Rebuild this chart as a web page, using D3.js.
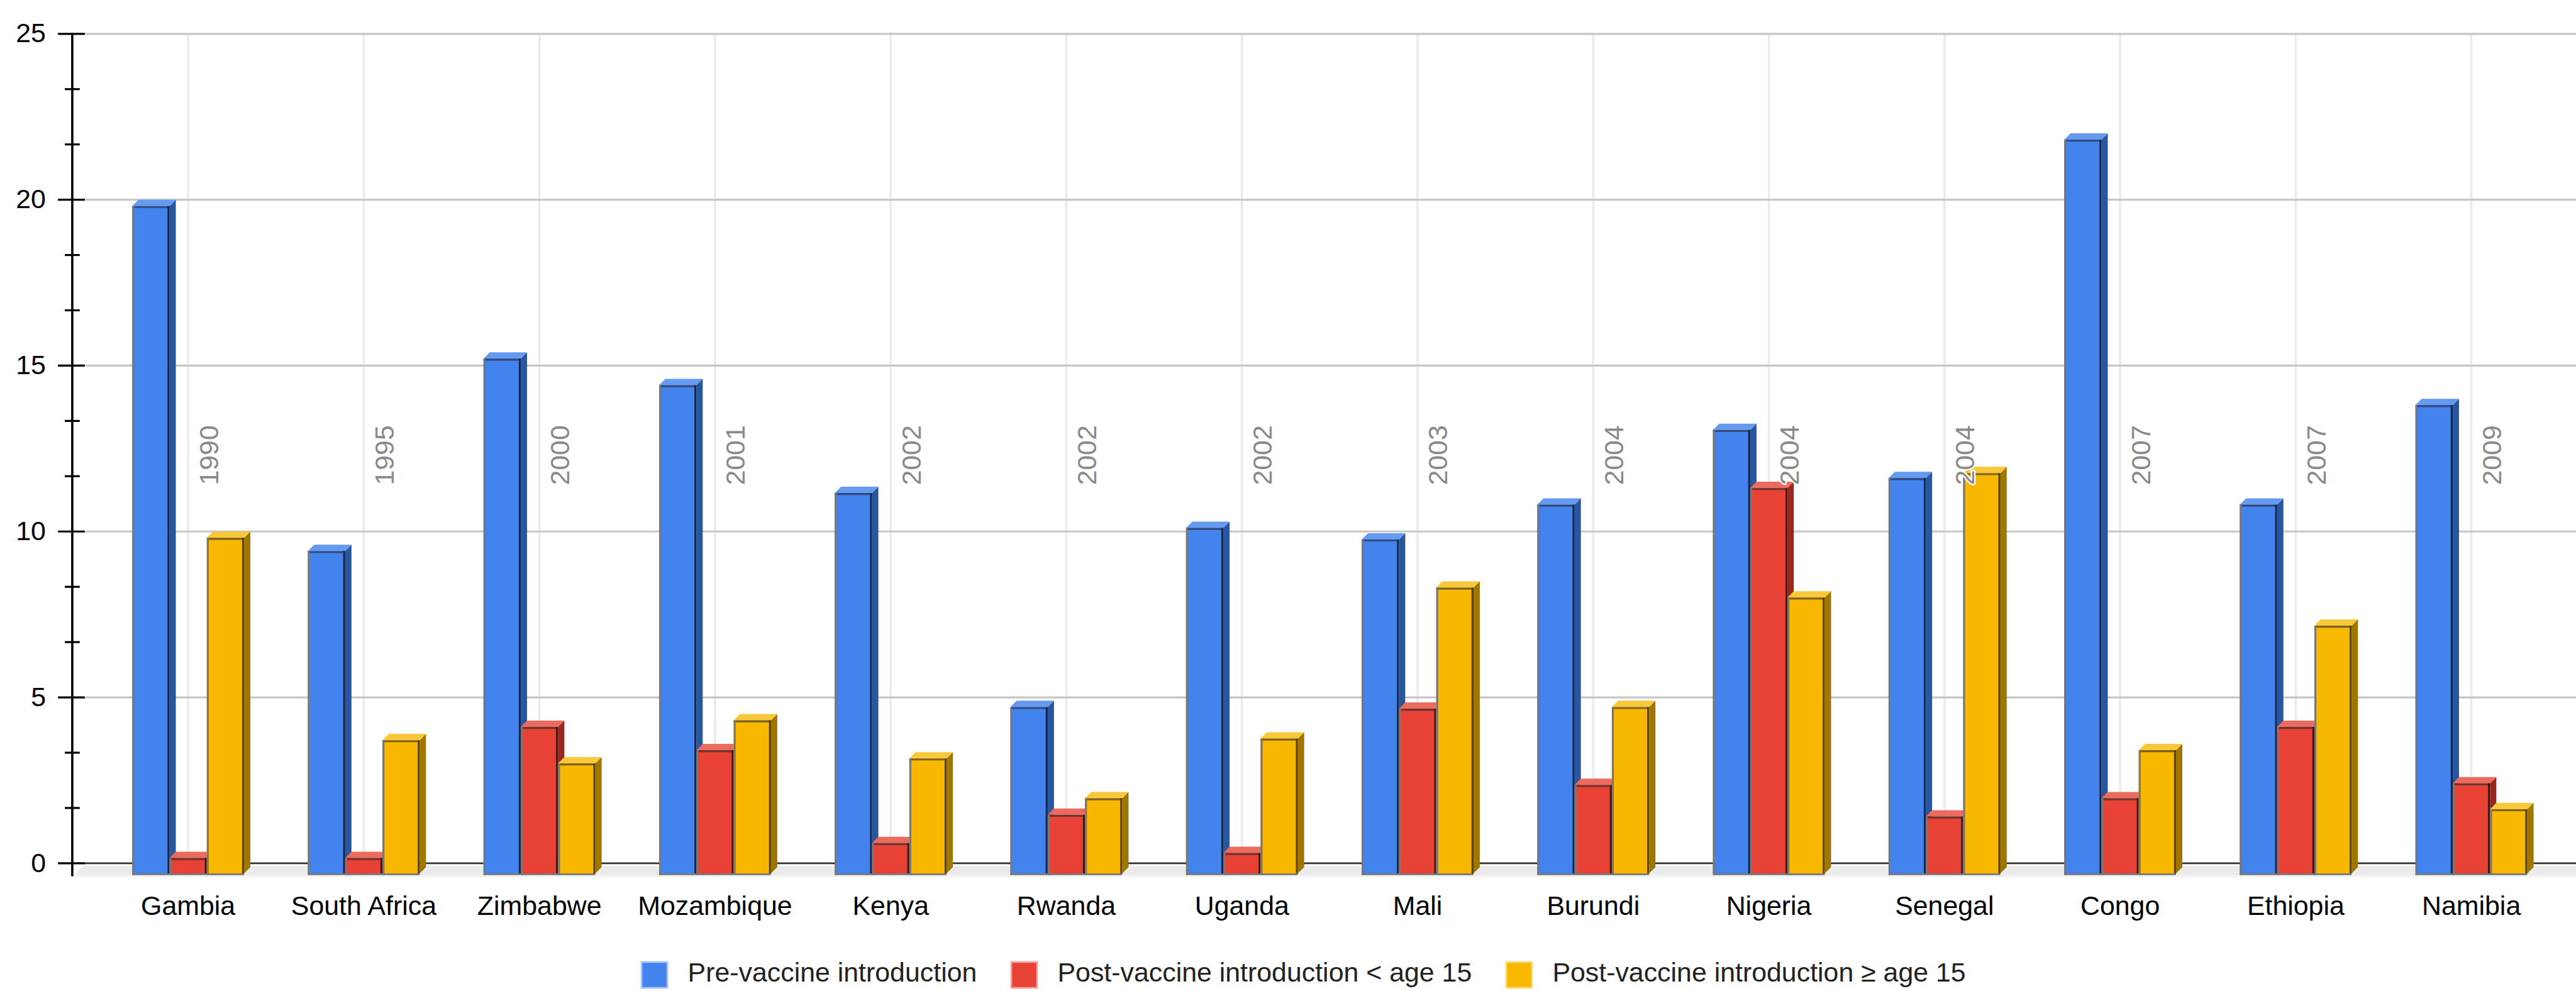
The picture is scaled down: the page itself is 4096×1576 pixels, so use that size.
<!DOCTYPE html>
<html><head><meta charset="utf-8">
<script src="https://cdn.jsdelivr.net/npm/d3@7"></script>
<style>html,body{margin:0;padding:0;background:#fff;overflow:hidden}</style>
</head><body>
<svg id="chart" width="4096" height="1576" viewBox="0 0 4491 1728"></svg>
<script>
const categories = ["Gambia","South Africa","Zimbabwe","Mozambique","Kenya","Rwanda","Uganda","Mali","Burundi","Nigeria","Senegal","Congo","Ethiopia","Namibia"];
const years = ["1990","1995","2000","2001","2002","2002","2002","2003","2004","2004","2004","2007","2007","2009"];
const seriesNames = ["Pre-vaccine introduction","Post-vaccine introduction < age 15","Post-vaccine introduction \u2265 age 15"];
const preVaccine  = [20.0, 9.6, 15.4, 14.6, 11.35, 4.9, 10.3, 9.95, 11.0, 13.25, 11.8, 22.0, 11.0, 14.0];
const postUnder15 = [0.35, 0.35, 4.3, 3.6, 0.8, 1.65, 0.5, 4.85, 2.55, 11.5, 1.6, 2.15, 4.3, 2.6];
const postOver15  = [10.0, 3.9, 3.2, 4.5, 3.35, 2.15, 3.95, 8.5, 4.9, 8.2, 11.95, 3.6, 7.35, 1.82];
const majorTicks = [0, 5, 10, 15, 20, 25];
const minorTicks = [1.667, 3.333, 6.667, 8.333, 11.667, 13.333, 16.667, 18.333, 21.667, 23.333];

const seriesValues = [preVaccine, postUnder15, postOver15];
const palette = [
  {front:"#4383ee", side:"#28569f", cap:"#659af1", edge:"#14284f", top:"#34497a", legendBorder:"#a6c3f8"},
  {front:"#e74235", side:"#97281f", cap:"#eb6b5f", edge:"#4a1410", top:"#6e3430", legendBorder:"#f4a29b"},
  {front:"#f9b800", side:"#9f7700", cap:"#f9c73a", edge:"#5b4200", top:"#7c6020", legendBorder:"#fcdc80"}
];

const W = 4491, H = 1728;
const FONT = "'Liberation Sans', Arial, sans-serif";
const FS = 47;
const svg = d3.select("#chart");
svg.append("rect").attr("width", W).attr("height", H).attr("fill", "#fff");

const AXIS_X = 126, PLOT_RIGHT = W;
const y = d3.scaleLinear().domain([0, 25]).range([1505.3, 59]);
const x = d3.scaleBand().domain(categories).range([174.9, 4461.7]).padding(0);
const inner = d3.scaleBand().domain([0, 1, 2]).range([-97.5, 97.5]).padding(0);
const DX = 11, DY = 11, FRONT_BOTTOM = 1523;
const cx = c => x(c) + x.bandwidth() / 2;

// vertical gridlines
svg.append("g").selectAll("line").data(categories).join("line")
  .attr("x1", d => cx(d)).attr("x2", d => cx(d))
  .attr("y1", y(25)).attr("y2", 1530)
  .attr("stroke", "#ebebeb").attr("stroke-width", 4);

// horizontal gridlines
svg.append("g").selectAll("line").data(majorTicks.filter(t => t > 0)).join("line")
  .attr("x1", 149).attr("x2", PLOT_RIGHT)
  .attr("y1", d => y(d)).attr("y2", d => y(d))
  .attr("stroke", "#c6c6c6").attr("stroke-width", 3.5);

// floor
svg.append("rect").attr("x", AXIS_X).attr("y", 1526).attr("width", W - AXIS_X).attr("height", 4).attr("fill", "#f4f4f4");
svg.append("polygon")
  .attr("points", [[129, 1526], [145, 1510], [W, 1510], [W, 1526]].map(p => p.join(",")).join(" "))
  .attr("fill", "#ebebeb");
// zero line
svg.append("line").attr("x1", 147).attr("x2", W).attr("y1", y(0)).attr("y2", y(0))
  .attr("stroke", "#333").attr("stroke-width", 3);

// bars
const barsG = svg.append("g");
categories.forEach((c, i) => {
  seriesValues.forEach((vals, s) => {
    const v = vals[i], col = palette[s];
    const L = cx(c) + inner(s), R = L + inner.bandwidth();
    const yT = y(v) + DY, B = FRONT_BOTTOM;
    const g = barsG.append("g");
    g.append("polygon").attr("points", [[R, yT], [R + DX, yT - DY], [R + DX, B - DY], [R, B]].map(p => p.join(",")).join(" "))
      .attr("fill", col.side);
    g.append("polygon").attr("points", [[L, yT], [L + DX, yT - DY], [R + DX, yT - DY], [R, yT]].map(p => p.join(",")).join(" "))
      .attr("fill", col.cap);
    g.append("rect").attr("x", L).attr("y", yT).attr("width", R - L).attr("height", B - yT).attr("fill", col.front);
    g.append("line").attr("x1", L).attr("x2", R).attr("y1", yT + 1.75).attr("y2", yT + 1.75).attr("stroke", col.top).attr("stroke-width", 3.5);
    g.append("line").attr("x1", R - 1.75).attr("x2", R - 1.75).attr("y1", yT).attr("y2", B).attr("stroke", col.edge).attr("stroke-width", 3.5);
    g.append("line").attr("x1", L + 1.75).attr("x2", L + 1.75).attr("y1", yT).attr("y2", B + 3).attr("stroke", "#777").attr("stroke-width", 3.5);
    g.append("line").attr("x1", L).attr("x2", R).attr("y1", B + 1.5).attr("y2", B + 1.5).attr("stroke", "#777").attr("stroke-width", 3);
  });
});

// year labels
svg.append("g").selectAll("text").data(categories).join("text")
  .attr("transform", d => `translate(${cx(d) + 52},846) rotate(-90)`)
  .attr("font-family", FONT).attr("font-size", FS).attr("fill", "#8a8a8a")
  .attr("stroke", "#fff").attr("stroke-width", 5).attr("paint-order", "stroke")
  .attr("stroke-linejoin", "round")
  .text((d, i) => years[i]);

// y axis
svg.append("line").attr("x1", AXIS_X).attr("x2", AXIS_X).attr("y1", y(25) - 1.5).attr("y2", 1528)
  .attr("stroke", "#000").attr("stroke-width", 4);
svg.append("g").selectAll("line").data(majorTicks).join("line")
  .attr("x1", 101).attr("x2", 148).attr("y1", d => y(d)).attr("y2", d => y(d))
  .attr("stroke", "#000").attr("stroke-width", 3.5);
svg.append("g").selectAll("line").data(minorTicks).join("line")
  .attr("x1", 113).attr("x2", 139).attr("y1", d => y(d)).attr("y2", d => y(d))
  .attr("stroke", "#000").attr("stroke-width", 3.5);
svg.append("g").selectAll("text").data(majorTicks).join("text")
  .attr("x", 80).attr("y", d => y(d) + 15)
  .attr("text-anchor", "end").attr("font-family", FONT).attr("font-size", FS).attr("fill", "#000")
  .text(d => d);

// category labels
svg.append("g").selectAll("text").data(categories).join("text")
  .attr("x", d => cx(d)).attr("y", 1595)
  .attr("text-anchor", "middle").attr("font-family", FONT).attr("font-size", FS).attr("fill", "#000")
  .text(d => d);

// legend
const legend = svg.append("g");
let lx = 1118.5;
seriesNames.forEach((name, s) => {
  legend.append("rect").attr("x", lx).attr("y", 1677.5).attr("width", 45).attr("height", 45)
    .attr("fill", palette[s].front).attr("stroke", palette[s].legendBorder).attr("stroke-width", 3);
  const t = legend.append("text").attr("x", lx + 80.5).attr("y", 1712)
    .attr("font-family", FONT).attr("font-size", FS).attr("fill", "#222").text(name);
  const w = t.node().getComputedTextLength();
  lx = lx + 80.5 + w + 60;
});
</script>
</body></html>
